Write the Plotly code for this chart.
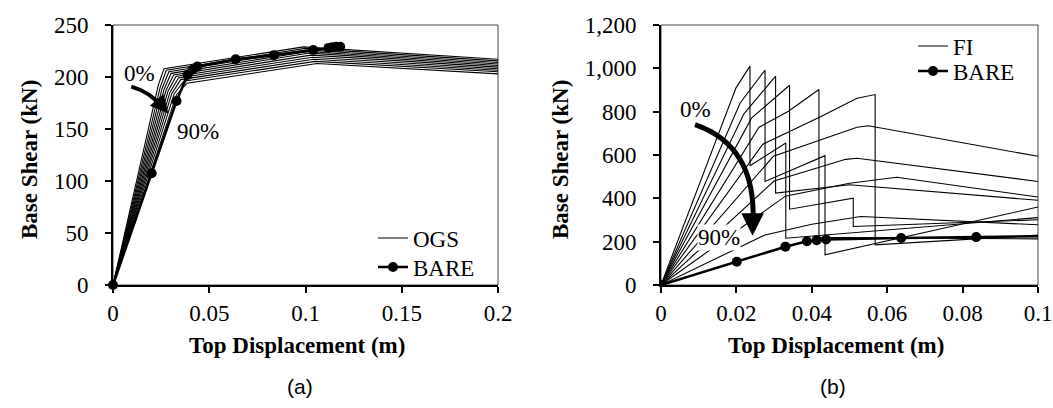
import plotly.graph_objects as go

FONT = "Liberation Serif, Times New Roman, Times, serif"
W, H = 1053, 408

# ---------------- Panel (a): OGS pushover curves (0% .. 90% openings) ----------------
ogs_labels = ["0%", "10%", "20%", "30%", "40%", "50%", "60%", "70%", "80%", "90%"]
ogs_x = [
    [0, 0.0235, 0.0265, 0.0990, 0.2],
    [0, 0.0245, 0.0277, 0.0998, 0.2],
    [0, 0.0255, 0.0290, 0.1005, 0.2],
    [0, 0.0265, 0.0302, 0.1012, 0.2],
    [0, 0.0275, 0.0315, 0.1020, 0.2],
    [0, 0.0285, 0.0327, 0.1028, 0.2],
    [0, 0.0295, 0.0340, 0.1035, 0.2],
    [0, 0.0305, 0.0352, 0.1042, 0.2],
    [0, 0.0318, 0.0367, 0.1050, 0.2],
    [0, 0.0330, 0.0385, 0.1060, 0.2],
]
ogs_y = [
    [0, 192, 208.0, 229.0, 217.0],
    [0, 190, 206.5, 227.5, 215.5],
    [0, 189, 205.0, 226.0, 214.0],
    [0, 188, 203.5, 224.5, 212.5],
    [0, 187, 202.0, 223.0, 211.0],
    [0, 186, 200.5, 221.0, 209.5],
    [0, 185, 199.0, 219.0, 208.0],
    [0, 184, 197.5, 217.0, 206.5],
    [0, 184, 196.0, 215.0, 205.0],
    [0, 183, 194.0, 213.0, 203.0],
]

# Bare frame pushover curve (shared by both panels)
bare_x = [0, 0.0201, 0.0330, 0.0387, 0.0413, 0.0438, 0.0637, 0.0836, 0.1040, 0.1120, 0.1140, 0.1160, 0.1180]
bare_y = [0, 107.5, 177.0, 202.0, 207.0, 210.0, 217.0, 221.0, 226.0, 228.0, 228.5, 229.0, 229.0]

# ---------------- Panel (b): FI pushover curves (0% .. 90% openings) ----------------
fi_x = [
    [0, 0.0199, 0.0236, 0.0236, 0.0331, 0.0331, 0.1],
    [0, 0.0210, 0.0276, 0.0276, 0.0435, 0.0435, 0.1],
    [0, 0.0220, 0.0304, 0.0304, 0.0500, 0.1],
    [0, 0.0240, 0.0341, 0.0341, 0.0510, 0.0510, 0.1],
    [0, 0.0260, 0.0338, 0.0419, 0.0419, 0.1],
    [0, 0.0270, 0.0419, 0.0520, 0.0568, 0.0568, 0.1],
    [0, 0.0298, 0.0520, 0.0550, 0.1],
    [0, 0.0300, 0.0490, 0.0520, 0.1],
    [0, 0.0330, 0.0500, 0.0625, 0.1],
    [0, 0.0276, 0.0400, 0.0530, 0.1],
]
fi_y = [
    [0, 910, 1010, 550, 655, 216, 311],
    [0, 840, 992, 478, 597, 139, 360],
    [0, 790, 964, 424, 463, 391],
    [0, 770, 922, 350, 401, 270, 301],
    [0, 728, 802, 902, 220, 213],
    [0, 650, 773, 862, 879, 185, 230],
    [0, 594, 728, 735, 594],
    [0, 480, 580, 585, 478],
    [0, 410, 470, 497, 406],
    [0, 231, 280, 316, 278],
]

xa_ticks = [0, 0.05, 0.1, 0.15, 0.2]
xa_ticklabels = ["0", "0.05", "0.1", "0.15", "0.2"]
ya_ticks = [0, 50, 100, 150, 200, 250]
ya_ticklabels = ["0", "50", "100", "150", "200", "250"]
xb_ticks = [0, 0.02, 0.04, 0.06, 0.08, 0.1]
xb_ticklabels = ["0", "0.02", "0.04", "0.06", "0.08", "0.1"]
yb_ticks = [0, 200, 400, 600, 800, 1000, 1200]
yb_ticklabels = ["0", "200", "400", "600", "800", "1,000", "1,200"]

fig = go.Figure()

for i, (xs, ys) in enumerate(zip(ogs_x, ogs_y)):
    fig.add_trace(go.Scatter(x=xs, y=ys, mode="lines", line=dict(color="black", width=1.1),
                             name="OGS", legend="legend", showlegend=(i == 0),
                             xaxis="x", yaxis="y", hoverinfo="skip"))
fig.add_trace(go.Scatter(x=bare_x, y=bare_y, mode="lines+markers", name="BARE", legend="legend2",
                         line=dict(color="black", width=2.6), marker=dict(color="black", size=10),
                         xaxis="x", yaxis="y", cliponaxis=False))

for i, (xs, ys) in enumerate(zip(fi_x, fi_y)):
    fig.add_trace(go.Scatter(x=xs, y=ys, mode="lines", line=dict(color="black", width=1.1),
                             name="FI", legend="legend3", showlegend=(i == 0),
                             xaxis="x2", yaxis="y2", hoverinfo="skip"))
fig.add_trace(go.Scatter(x=bare_x, y=bare_y, mode="lines+markers", name="BARE", legend="legend4",
                         line=dict(color="black", width=2.6), marker=dict(color="black", size=10),
                         xaxis="x2", yaxis="y2"))

ydom = [1 - 285 / H, 1 - 25 / H]


def ax(**kw):
    base = dict(showline=True, linecolor="black", linewidth=2, ticks="outside", ticklen=6,
                tickwidth=1.5, tickcolor="black", showgrid=False, zeroline=False,
                tickfont=dict(family=FONT, size=23, color="black"),
                automargin=False, fixedrange=True, tickmode="array")
    base.update(kw)
    return base


legfont = dict(family=FONT, size=23, color="black")


def leg(xpx, ypx):
    return dict(x=xpx / W, y=1 - ypx / H, xanchor="left", yanchor="middle", font=legfont,
                bgcolor="rgba(0,0,0,0)", borderwidth=0, tracegroupgap=0)


fig.update_layout(
    width=W, height=H, margin=dict(l=0, r=0, t=0, b=0),
    paper_bgcolor="white", plot_bgcolor="white",
    font=dict(family=FONT, size=23, color="black"),
    xaxis=ax(domain=[113 / W, 498 / W], range=[0, 0.2], tickvals=xa_ticks, ticktext=xa_ticklabels,
             anchor="y", ticklabelstandoff=0),
    yaxis=ax(domain=ydom, range=[0, 250], tickvals=ya_ticks, ticktext=ya_ticklabels, anchor="x",
             ticklabelstandoff=12),
    xaxis2=ax(domain=[661 / W, 1038 / W], range=[0, 0.1], tickvals=xb_ticks, ticktext=xb_ticklabels,
              anchor="y2", ticklabelstandoff=0),
    yaxis2=ax(domain=ydom, range=[0, 1200], tickvals=yb_ticks, ticktext=yb_ticklabels, anchor="x2",
              ticklabelstandoff=12),
    legend=leg(373, 238),
    legend2=leg(373, 267),
    legend3=leg(913, 46),
    legend4=leg(913, 71),
    showlegend=True,
)

# thin frame (top/right borders)
for xr, yr in (("x domain", "y domain"), ("x2 domain", "y2 domain")):
    fig.add_shape(type="rect", xref=xr, yref=yr, x0=0, x1=1, y0=0, y1=1,
                  line=dict(color="#444444", width=1), layer="below")

# curved arrows
fig.add_shape(type="path", xref="x", yref="y",
              path="M 0.0095,190.7 Q 0.0194,185.6 0.0261,170.2",
              line=dict(color="black", width=4))
fig.add_shape(type="path", xref="x2", yref="y2",
              path="M 0.00903,740.5 Q 0.02522,643.3 0.02442,291.6",
              line=dict(color="black", width=5))

C = dict(xanchor="center", yanchor="middle", showarrow=False)
ann = []
ann.append(dict(x=0.0288, y=165.0, xref="x", yref="y", ax=-7, ay=-8, text="", showarrow=True,
                arrowhead=2, arrowsize=0.9, arrowwidth=4, arrowcolor="black", standoff=0))
ann.append(dict(x=0.02429, y=226.8, xref="x2", yref="y2", ax=0, ay=-18, text="", showarrow=True,
                arrowhead=2, arrowsize=0.9, arrowwidth=5, arrowcolor="black", standoff=0))
lab = dict(family=FONT, size=23, color="black")
ann.append(dict(x=0.01366, y=203.8, xref="x", yref="y", text="0%", font=lab, **C))
ann.append(dict(x=0.0440, y=147.4, xref="x", yref="y", text="90%", font=lab, **C))
ann.append(dict(x=0.00903, y=810, xref="x2", yref="y2", text="0%", font=lab, **C))
ann.append(dict(x=0.0154, y=220, xref="x2", yref="y2", text="90%", font=lab,
                bgcolor="white", borderpad=0, **C))

tfont = dict(family=FONT, size=23, color="black")
ann.append(dict(x=297 / W, y=1 - 345 / H, xref="paper", yref="paper", text="<b>Top Displacement (m)</b>",
                font=tfont, **C))
ann.append(dict(x=836 / W, y=1 - 345 / H, xref="paper", yref="paper", text="<b>Top Displacement (m)</b>",
                font=tfont, **C))
ann.append(dict(x=30 / W, y=1 - 160 / H, xref="paper", yref="paper", text="<b>Base Shear (kN)</b>",
                textangle=-90, font=tfont, **C))
ann.append(dict(x=561 / W, y=1 - 160 / H, xref="paper", yref="paper", text="<b>Base Shear (kN)</b>",
                textangle=-90, font=tfont, **C))
sfont = dict(family="Liberation Sans, Arial, sans-serif", size=21, color="black")
ann.append(dict(x=300 / W, y=1 - 386 / H, xref="paper", yref="paper", text="(a)", font=sfont, **C))
ann.append(dict(x=833 / W, y=1 - 386 / H, xref="paper", yref="paper", text="(b)", font=sfont, **C))
fig.update_layout(annotations=ann)

fig.write_html("out.html")
